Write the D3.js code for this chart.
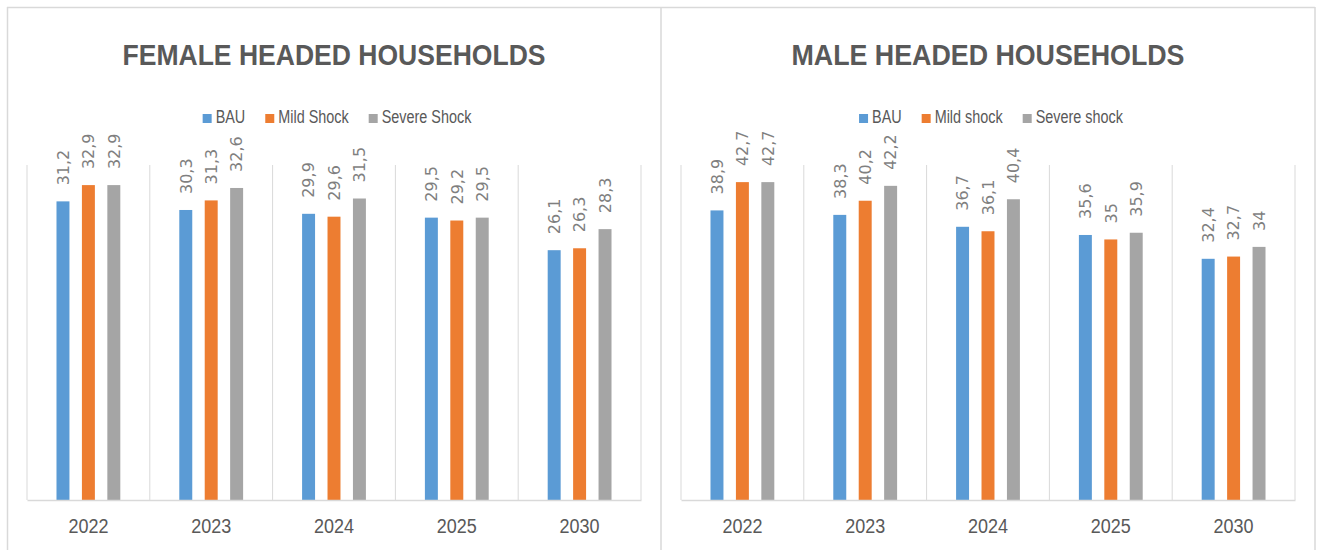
<!DOCTYPE html>
<html>
<head>
<meta charset="utf-8">
<script src="https://cdn.jsdelivr.net/npm/d3@7.9.0/dist/d3.min.js"></script>
<style>
  html, body { margin: 0; padding: 0; background: #fff; }
  svg { display: block; }
</style>
</head>
<body>
<svg id="chart" width="1319" height="550"></svg>
<script>
// Data
const years = ['2022', '2023', '2024', '2025', '2030'];

const femaleSeries = ['BAU', 'Mild Shock', 'Severe Shock'];
const femaleBAU = [31.2, 30.3, 29.9, 29.5, 26.1];
const femaleMild = [32.9, 31.3, 29.6, 29.2, 26.3];
const femaleSevere = [32.9, 32.6, 31.5, 29.5, 28.3];

const maleSeries = ['BAU', 'Mild shock', 'Severe shock'];
const maleBAU = [38.9, 38.3, 36.7, 35.6, 32.4];
const maleMild = [42.7, 40.2, 36.1, 35, 32.7];
const maleSevere = [42.7, 42.2, 40.4, 35.9, 34];

const colors = ['#5B9BD5', '#ED7D31', '#A5A5A5'];

const svg = d3.select('#chart');

// Panel frames
const frame = svg.append('g').attr('stroke', '#d9d9d9').attr('stroke-width', 1.5).attr('fill', 'none');
frame.append('line').attr('x1', 7).attr('x2', 1315).attr('y1', 7.5).attr('y2', 7.5);
frame.append('line').attr('x1', 7.5).attr('x2', 7.5).attr('y1', 7).attr('y2', 550);
frame.append('line').attr('x1', 661).attr('x2', 661).attr('y1', 7).attr('y2', 550);
frame.append('line').attr('x1', 1315).attr('x2', 1315).attr('y1', 7).attr('y2', 550);

function renderPanel(opts) {
  const { title, titleWidth, series, values, left, right, yMax } = opts;
  const top = 165, bottom = 500;
  const g = svg.append('g');

  const x = d3.scaleBand().domain(years).range([left, right]);
  const xInner = d3.scaleBand()
    .domain(d3.range(series.length))
    .range([0, x.bandwidth()])
    .paddingInner(0.49)
    .paddingOuter(1.16);
  const y = d3.scaleLinear().domain([0, yMax]).range([bottom, top]);

  const cx = (left + right) / 2;

  // Title
  g.append('text')
    .attr('x', cx)
    .attr('y', 65)
    .attr('text-anchor', 'middle')
    .attr('font-family', 'Liberation Sans, Arial, sans-serif')
    .attr('font-weight', 'bold')
    .attr('font-size', 30)
    .attr('fill', '#595959')
    .attr('textLength', titleWidth)
    .attr('lengthAdjust', 'spacingAndGlyphs')
    .text(title);

  // Legend
  const legend = g.append('g');
  let lx = 0;
  series.forEach((name, i) => {
    legend.append('rect')
      .attr('x', lx).attr('y', 114)
      .attr('width', 9).attr('height', 9)
      .attr('fill', colors[i]);
    const t = legend.append('text')
      .attr('x', lx + 13)
      .attr('y', 123)
      .attr('font-family', 'Liberation Sans, Arial, sans-serif')
      .attr('font-size', 18)
      .attr('fill', '#595959')
      .text(name);
    const w = t.node().getComputedTextLength() * 0.8;
    t.attr('textLength', w).attr('lengthAdjust', 'spacingAndGlyphs');
    lx += 13 + w + 20;
  });
  const legendWidth = lx - 20;
  legend.attr('transform', `translate(${cx + 3 - legendWidth / 2},0)`);

  // Vertical gridlines at category boundaries
  const bounds = years.map((d) => x(d)).concat([right]);
  g.append('g')
    .selectAll('line')
    .data(bounds)
    .join('line')
    .attr('x1', (d) => d).attr('x2', (d) => d)
    .attr('y1', top).attr('y2', bottom)
    .attr('stroke', '#d9d9d9')
    .attr('stroke-width', 1);

  // Bars
  const rows = [];
  years.forEach((yr, i) => {
    series.forEach((s, j) => rows.push({ yr, j, v: values[j][i] }));
  });

  g.append('g')
    .selectAll('rect')
    .data(rows)
    .join('rect')
    .attr('x', (d) => x(d.yr) + xInner(d.j))
    .attr('y', (d) => y(d.v))
    .attr('width', xInner.bandwidth())
    .attr('height', (d) => y(0) - y(d.v))
    .attr('fill', (d) => colors[d.j]);

  // Data labels, rotated
  g.append('g')
    .selectAll('text')
    .data(rows)
    .join('text')
    .attr('transform', (d) => {
      const bx = x(d.yr) + xInner(d.j) + xInner.bandwidth() / 2;
      return `translate(${bx},${y(d.v) - 16}) rotate(-90)`;
    })
    .attr('dy', '0.36em')
    .attr('font-family', 'DejaVu Sans, Verdana, sans-serif')
    .attr('font-size', 16)
    .attr('fill', '#7f7f7f')
    .text((d) => String(d.v).replace('.', ','));

  // X axis
  const axis = g.append('g')
    .attr('transform', `translate(0,${bottom})`)
    .call(d3.axisBottom(x).tickSize(0).tickPadding(0));
  axis.select('.domain').attr('stroke', '#d9d9d9').attr('stroke-width', 1.5);
  axis.selectAll('.tick text')
    .attr('y', 33)
    .attr('dy', 0)
    .attr('font-family', 'Liberation Sans, Arial, sans-serif')
    .attr('font-size', 20)
    .attr('fill', '#595959')
    .attr('textLength', 40)
    .attr('lengthAdjust', 'spacingAndGlyphs');
}

renderPanel({
  title: 'FEMALE HEADED HOUSEHOLDS',
  titleWidth: 423,
  series: femaleSeries,
  values: [femaleBAU, femaleMild, femaleSevere],
  left: 27,
  right: 641,
  yMax: 35,
});

renderPanel({
  title: 'MALE HEADED HOUSEHOLDS',
  titleWidth: 393,
  series: maleSeries,
  values: [maleBAU, maleMild, maleSevere],
  left: 681,
  right: 1295,
  yMax: 45,
});
</script>
</body>
</html>
